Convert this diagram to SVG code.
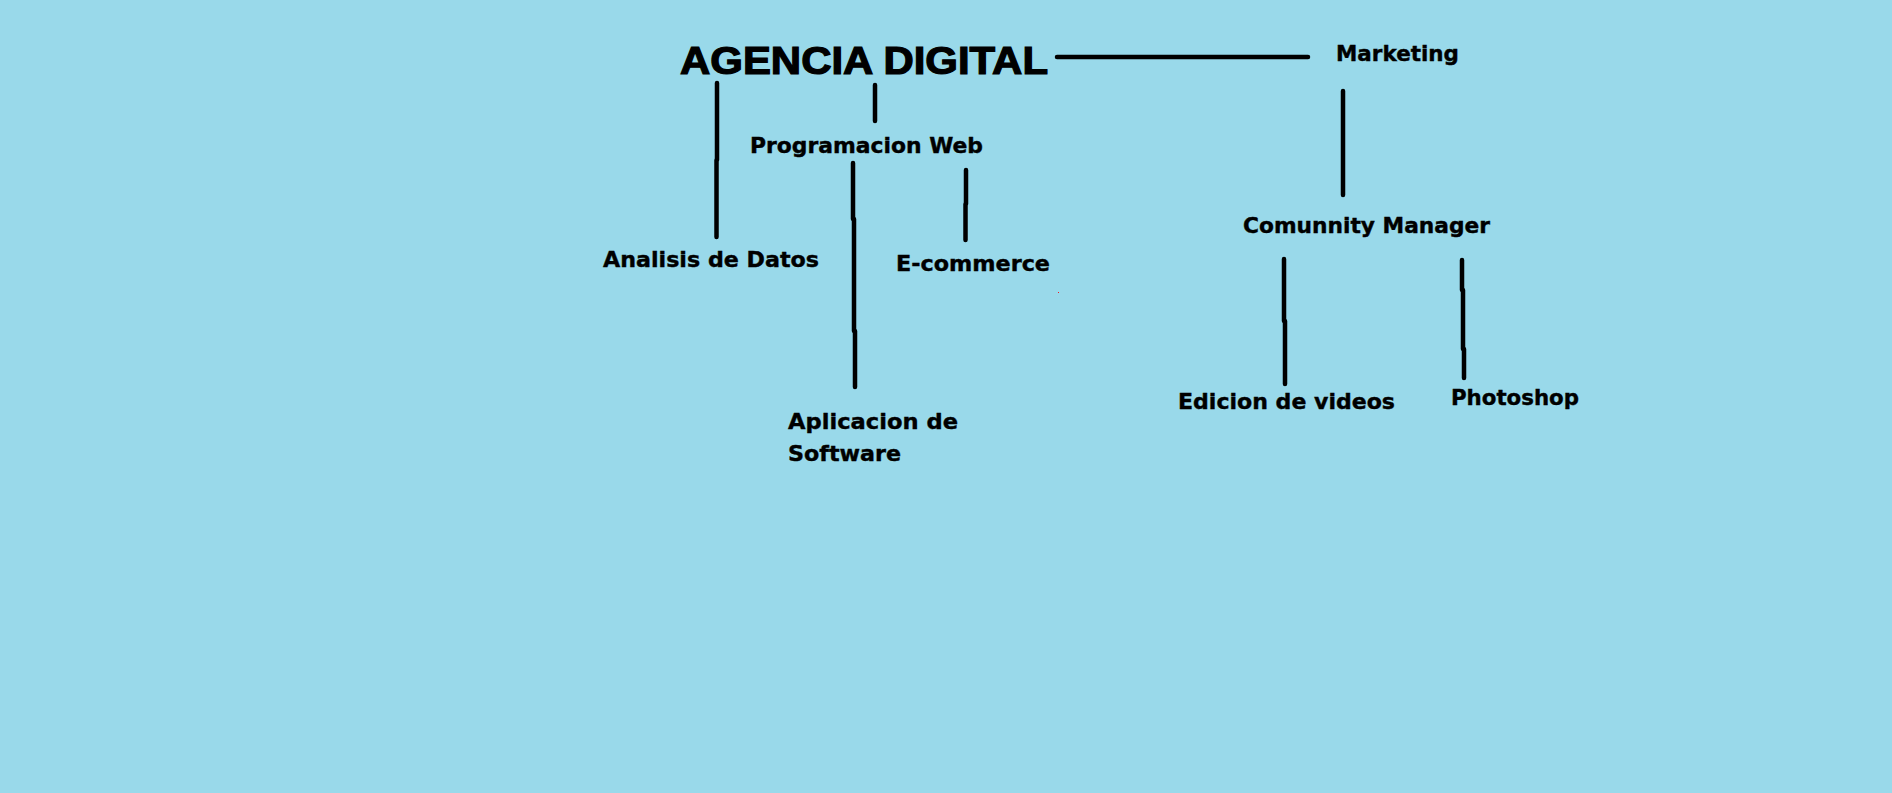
<svg xmlns="http://www.w3.org/2000/svg" width="1892" height="793" viewBox="0 0 1892 793">
<style>
.bg{fill:#99D9EA}
.t{font-family:"DejaVu Sans","Verdana",sans-serif;font-weight:bold;font-size:22px;fill:#000;stroke:#000;stroke-width:0.4}
.title{font-family:"Liberation Sans",Arial,sans-serif;font-weight:bold;font-size:38px;fill:#000;stroke:#000;stroke-width:1.2}
.c{fill:none;stroke:#000;stroke-width:4.5;stroke-linecap:round;stroke-linejoin:round}
</style>
<rect class="bg" x="0" y="0" width="1892" height="793"/>
<g id="connectors">
<path class="c" d="M1057,57 L1308,57"/>
<path class="c" d="M717,83 L717,160 M716.5,160 L716.5,237"/>
<path class="c" d="M875,85 L875,121"/>
<path class="c" d="M853,163 L853,219 M854,219 L854,331 M855,331 L855,387"/>
<path class="c" d="M966,170 L966,204 M965.5,204 L965.5,240"/>
<path class="c" d="M1343,91 L1343,195"/>
<path class="c" d="M1284,259 L1284,321 M1285,321 L1285,384"/>
<path class="c" d="M1462,260 L1462,290 M1463,290 L1463,349 M1464,349 L1464,378"/>
</g>
<g id="agencia-digital"><text class="title" x="680" y="74" textLength="368" lengthAdjust="spacingAndGlyphs">AGENCIA DIGITAL</text></g>
<g id="marketing"><text class="t" x="1336" y="61" textLength="123" lengthAdjust="spacingAndGlyphs">Marketing</text></g>
<g id="programacion-web"><text class="t" x="750" y="153" textLength="233" lengthAdjust="spacingAndGlyphs">Programacion Web</text></g>
<g id="analisis-de-datos"><text class="t" x="603" y="267" textLength="216" lengthAdjust="spacingAndGlyphs">Analisis de Datos</text></g>
<g id="e-commerce"><text class="t" x="896" y="271" textLength="154" lengthAdjust="spacingAndGlyphs">E-commerce</text></g>
<g id="aplicacion-de-software"><text class="t" x="788" y="429" textLength="170" lengthAdjust="spacingAndGlyphs">Aplicacion de</text><text class="t" x="788" y="461" textLength="113" lengthAdjust="spacingAndGlyphs">Software</text></g>
<g id="comunnity-manager"><text class="t" x="1243" y="233" textLength="247" lengthAdjust="spacingAndGlyphs">Comunnity Manager</text></g>
<g id="edicion-de-videos"><text class="t" x="1178" y="409" textLength="217" lengthAdjust="spacingAndGlyphs">Edicion de videos</text></g>
<g id="photoshop"><text class="t" x="1451" y="405" textLength="128" lengthAdjust="spacingAndGlyphs">Photoshop</text></g>
<rect x="1058" y="292" width="1" height="1" fill="#ED1C24"/>
</svg>
